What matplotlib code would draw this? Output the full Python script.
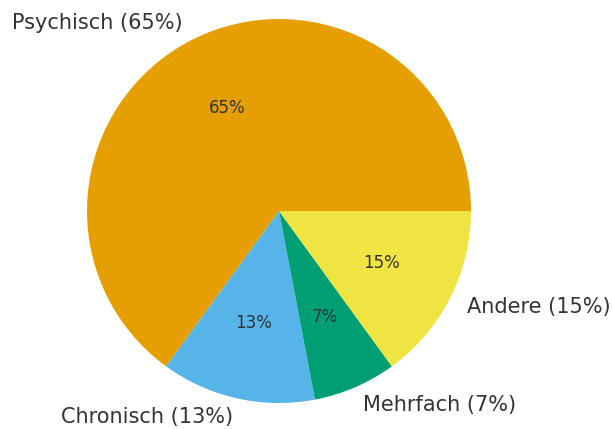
import matplotlib
matplotlib.use('Agg')
import matplotlib.pyplot as plt

categories = ['Psychisch', 'Chronisch', 'Mehrfach', 'Andere']
shares = [65, 13, 7, 15]
colors = ['#E69F00', '#56B4E9', '#009E73', '#F0E442']

labels = [f'{c} ({v}%)' for c, v in zip(categories, shares)]

fig = plt.figure(figsize=(6.12, 4.29), dpi=100)
# pie centre ~ (279, 211) px, radius ~ 192 px
ax = fig.add_axes([(279 - 192) / 612, (429 - 211 - 192) / 429, 384 / 612, 384 / 429])
wedges, texts, autotexts = ax.pie(shares, labels=labels, colors=colors,
                                  autopct='%1.0f%%', startangle=0,
                                  counterclock=True, pctdistance=0.6,
                                  labeldistance=1.1,
                                  textprops={'color': '#333333'})
for t in texts:
    t.set_fontsize(15)
for t in autotexts:
    t.set_fontsize(12)
    t.set_color('#333333')
ax.set_xlim(-1, 1)
ax.set_ylim(-1, 1)
ax.set_aspect('equal')

fig.savefig('out.png', dpi=100)
